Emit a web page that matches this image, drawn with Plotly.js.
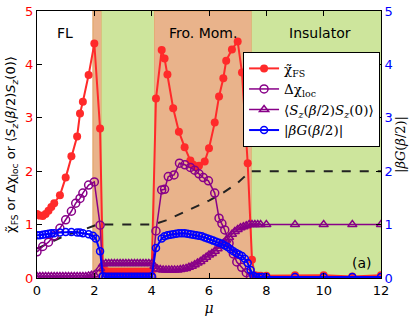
<!DOCTYPE html>
<html>
<head>
<meta charset="utf-8">
<script src="https://cdn.plot.ly/plotly-3.0.1.min.js"></script>
<style>html,body{margin:0;padding:0;background:#fff;}#chart{width:415px;height:316px;}</style>
</head>
<body>
<div id="chart"></div>
<script>
// ---- data ----
const muGap = [2.3,2.4,2.5,2.6,2.7,2.8,2.9,3.0,3.1,3.2,3.3,3.4,3.5,3.6,3.7,3.8,3.9,4.0];

const muChi = [0,0.1,0.2,0.3,0.4,0.5,0.6,0.8,1.0,1.2,1.4,1.5,1.6,1.8,2.0,2.2].concat(muGap,
  [4.15,4.35,4.45,4.55,4.75,4.95,5.15,5.35,5.45,5.55,5.65,5.85,6.0,6.2,6.35,6.5,6.6,6.8,7.0,7.15,7.35,7.5,7.6,7.7,7.8,8,9,10,11,12]);
const chiFS = [1.2,1.17,1.16,1.2,1.26,1.33,1.4,1.55,1.88,2.28,2.65,3.08,3.3,3.8,4.39,2.8].concat(
  [0.15,0.13,0.12,0.12,0.12,0.12,0.12,0.12,0.12,0.12,0.12,0.12,0.12,0.12,0.12,0.12,0.12,0.12],
  [3.36,4.27,4.11,3.81,3.18,2.74,2.45,2.2,2.12,2.08,2.1,2.18,2.43,2.91,3.4,3.74,4.07,4.28,4.43,3.85,2.15,0.34,0.05,0.04,0.04,0.04,0.05,0.05,0.03,0.05]);

const muLoc = [0,0.2,0.4,0.6,0.8,1.0,1.2,1.35,1.5,1.6,1.8,2.0,2.2].concat(muGap,
  [4.15,4.35,4.45,4.58,4.78,4.97,5.16,5.35,5.5,5.65,5.8,5.98,6.2,6.35,6.45,6.55,6.7,6.85,6.97,7.14,7.3,7.45,7.6]);
const dChiLoc = [0.49,0.59,0.67,0.79,0.93,1.09,1.25,1.4,1.49,1.59,1.74,1.8,0.99].concat(
  [0.03,0.02,0.02,0.02,0.02,0.02,0.02,0.02,0.02,0.02,0.02,0.02,0.02,0.02,0.02,0.02,0.02,0.02],
  [0.88,1.65,1.66,1.9,1.93,2.15,2.12,2.07,2.02,1.95,1.88,1.82,1.59,1.12,1.02,0.9,0.65,0.45,0.3,0.2,0.1,0.03,0.01]);

const muSz = [0,0.1,0.2,0.3,0.4,0.5,0.6,0.7,0.8,0.9,1.0,1.1,1.2,1.3,1.4,1.5,1.6,1.7,1.8,1.9,2.0,2.2].concat(muGap,
  [4.1,4.2,4.3,4.4,4.5,4.6,4.7,4.8,4.9,5.0,5.1,5.2,5.3,5.4,5.5,5.6,5.7,5.8,5.9,6.0,6.1,6.2,6.3,6.4,6.5,6.6,6.7,6.8,6.9,7.0,7.1,7.2,7.3,7.4,7.5,7.6,7.7,7.8,8,9,10,11,12]);
const szsz = [0.03,0.03,0.03,0.03,0.03,0.03,0.03,0.03,0.03,0.03,0.03,0.03,0.03,0.03,0.03,0.03,0.03,0.03,0.04,0.05,0.06,0.18].concat(
  [0.26,0.27,0.27,0.27,0.27,0.27,0.27,0.27,0.27,0.27,0.27,0.27,0.27,0.27,0.27,0.27,0.27,0.27],
  [0.22,0.17,0.16,0.15,0.15,0.15,0.15,0.15,0.15,0.16,0.17,0.18,0.2,0.22,0.25,0.28,0.31,0.35,0.39,0.43,0.46,0.5,0.55,0.6,0.65,0.71,0.76,0.82,0.87,0.91,0.94,0.96,0.98,1.0,1.0,1.0,1.0,1.0,1.0,1.0,1.0,1.0,1.0]);

const muG = [0,0.1,0.2,0.3,0.4,0.5,0.6,0.8,1.0,1.2,1.4,1.5,1.6,1.8,1.95,2.05,2.2].concat(muGap,
  [4.15,4.35,4.45,4.55,4.65,4.75,4.85,4.95,5.05,5.15,5.25,5.35,5.45,5.55,5.65,5.75,5.85,5.95,6.05,6.15,6.25,6.35,6.45,6.55,6.65,6.75,6.85,6.95,7.05,7.15,7.25,7.35,7.45,7.55,7.65,7.75,7.85,8,9,10,11,12]);
const betaG = [0.8,0.8,0.81,0.82,0.83,0.84,0.84,0.85,0.86,0.86,0.85,0.85,0.84,0.82,0.79,0.74,0.5].concat(
  [0.03,0.02,0.02,0.02,0.02,0.02,0.02,0.02,0.02,0.02,0.02,0.02,0.02,0.02,0.02,0.02,0.02,0.03],
  [0.56,0.74,0.78,0.8,0.81,0.82,0.83,0.84,0.84,0.84,0.83,0.82,0.81,0.8,0.79,0.78,0.76,0.74,0.72,0.7,0.68,0.66,0.64,0.61,0.58,0.54,0.5,0.47,0.44,0.41,0.36,0.28,0.15,0.04,0.02,0.02,0.02,0.02,0.02,0.02,0.02,0.02]);

const muDash = [0,0.5,1.0,1.5,1.9,2.1,4.0,4.1,4.5,5.0,5.5,6.0,6.5,7.0,7.2,7.35,7.45,12];
const dashVal = [0.55,0.68,0.8,0.88,0.96,1.0,1.0,1.01,1.08,1.2,1.32,1.45,1.6,1.78,1.88,1.96,2.0,2.0];

const regionOrange = [[1.95,2.25],[4.08,7.49]];
const regionGreen = [[2.25,4.08],[7.49,12]];
const regionLabels = [{t:'FL',x:0.98},{t:'Fro. Mom.',x:5.78},{t:'Insulator',x:9.87}];
const xTicks = [0,2,4,6,8,10,12];
const yTicks = [0,1,2,3,4,5];

const RED='#ff2a2a', PURPLE='#880088', BLUE='#0000ff';
const serif = 'DejaVu Serif, serif';

const traces = [
  {x:muDash, y:dashVal, mode:'lines', line:{color:'#222', width:2, dash:'dash'}, showlegend:false, hoverinfo:'skip'},
  {x:muChi, y:chiFS, mode:'lines+markers', name:'χ̃<sub>FS</sub>',
   line:{color:RED, width:2}, marker:{color:RED, size:8, symbol:'circle'}},
  {x:muLoc, y:dChiLoc, mode:'lines+markers', name:'Δχ<sub>loc</sub>',
   line:{color:PURPLE, width:1.5}, marker:{color:PURPLE, size:8, symbol:'circle-open', line:{width:1.5}}},
  {x:muSz, y:szsz, mode:'lines+markers', name:'⟨<i>S<sub>z</sub></i>(<i>β</i>/2)<i>S<sub>z</sub></i>(0)⟩',
   line:{color:PURPLE, width:1.5}, marker:{color:PURPLE, size:8, symbol:'triangle-up-open', line:{width:1.5}}},
  {x:muG, y:betaG, yaxis:'y2', mode:'lines+markers', name:'|<i>βG</i>(<i>β</i>/2)|',
   line:{color:BLUE, width:2}, marker:{color:BLUE, size:7, symbol:'circle-open', line:{width:1.5}}}
];

const shapes = [];
regionOrange.forEach(r=>shapes.push({type:'rect', xref:'x', yref:'paper', x0:r[0], x1:r[1], y0:0, y1:1,
  fillcolor:'#e9b38b', line:{color:'#e0a060', width:1}, layer:'below'}));
regionGreen.forEach(r=>shapes.push({type:'rect', xref:'x', yref:'paper', x0:r[0], x1:r[1], y0:0, y1:1,
  fillcolor:'#cde59c', line:{width:0}, layer:'below'}));

const annotations = regionLabels.map(l=>({x:l.x, y:4.59, xref:'x', yref:'y', text:l.t, showarrow:false,
  font:{family:'DejaVu Sans', size:14, color:'#000'}}));
annotations.push({x:11.33, y:0.28, xref:'x', yref:'y', text:'(a)', showarrow:false,
  font:{family:'DejaVu Sans', size:14, color:'#000'}});

const layout = {
  width:415, height:316,
  margin:{l:37, r:34, t:11, b:38},
  paper_bgcolor:'#fff', plot_bgcolor:'#fff',
  showlegend:true,
  legend:{x:0.599, y:0.846, xanchor:'left', yanchor:'top', bgcolor:'#fff', bordercolor:'#000', borderwidth:1,
    font:{family:serif, size:13.5, color:'#000'}, itemwidth:30, tracegroupgap:0},
  xaxis:{range:[0,12], tickvals:xTicks, ticks:'inside', ticklen:5, tickcolor:'#000', mirror:'ticks',
    showline:true, linecolor:'#000', linewidth:1, showgrid:false, zeroline:false,
    tickfont:{family:'DejaVu Sans', size:13, color:'#000'},
    title:{text:'<i>μ</i>', font:{family:serif, size:14, color:'#000'}, standoff:6}},
  yaxis:{range:[0,5], tickvals:yTicks, ticks:'inside', ticklen:5, tickcolor:'#000',
    showline:true, linecolor:'#000', linewidth:1, showgrid:false, zeroline:false,
    tickfont:{family:'DejaVu Sans', size:13, color:'#ff0000'},
    title:{text:'χ̃<sub>FS</sub> or Δχ<sub>loc</sub> or ⟨<i>S<sub>z</sub></i>(<i>β</i>/2)<i>S<sub>z</sub></i>(0)⟩',
      font:{family:'DejaVu Sans', size:13, color:'#000'}, standoff:6}},
  yaxis2:{range:[0,5], tickvals:yTicks, overlaying:'y', side:'right', ticks:'inside', ticklen:5, tickcolor:'#000',
    showline:true, linecolor:'#000', linewidth:1, showgrid:false, zeroline:false,
    tickfont:{family:'DejaVu Sans', size:13, color:'#0000ff'},
    title:{text:'|<i>βG</i>(<i>β</i>/2)|', font:{family:serif, size:13, color:'#000'}, standoff:4}},
  shapes:shapes,
  annotations:annotations
};

Plotly.newPlot('chart', traces, layout, {displayModeBar:false, staticPlot:true});
</script>
</body>
</html>
